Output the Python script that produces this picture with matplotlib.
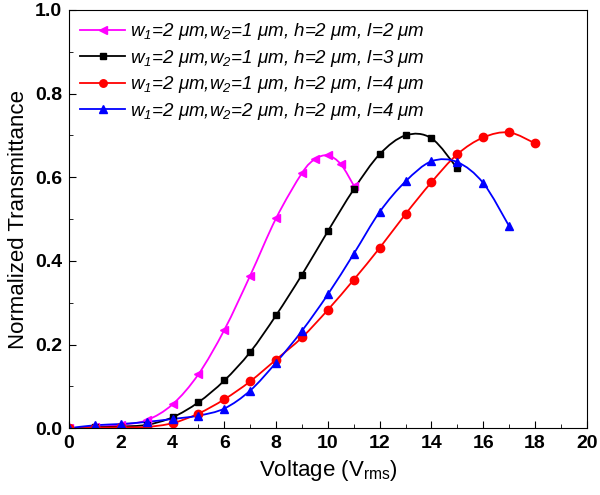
import numpy as np
import matplotlib
matplotlib.use('Agg')
import matplotlib.pyplot as plt
from matplotlib.path import Path
from matplotlib.patches import PathPatch
from matplotlib.ticker import MultipleLocator

plt.rcParams['font.family'] = ['Liberation Sans', 'DejaVu Sans']
plt.rcParams['mathtext.fontset'] = 'custom'
plt.rcParams['mathtext.rm'] = 'Liberation Sans:italic'
plt.rcParams['mathtext.it'] = 'Liberation Sans:italic'

# l = 2 um (magenta)
v_l2 = [0, 1, 2, 3, 4, 5, 6, 7, 8, 9, 9.5, 10, 10.5, 11]
t_l2 = [0.0, 0.003, 0.008, 0.019, 0.057, 0.129, 0.235, 0.365, 0.502, 0.61, 0.643, 0.652, 0.631, 0.58]
# l = 3 um (black)
v_l3 = [0, 1, 2, 3, 4, 5, 6, 7, 8, 9, 10, 11, 12, 13, 14, 15]
t_l3 = [0.0, 0.002, 0.004, 0.008, 0.026, 0.062, 0.114, 0.182, 0.27, 0.367, 0.471, 0.571, 0.655, 0.70, 0.693, 0.621]
# l = 4 um, w2 = 1 um (red)
v_r = [0, 1, 2, 3, 4, 5, 6, 7, 8, 9, 10, 11, 12, 13, 14, 15, 16, 17, 18]
t_r = [0.0, 0.001, 0.002, 0.003, 0.012, 0.035, 0.069, 0.112, 0.164, 0.217, 0.283, 0.355, 0.431,
       0.512, 0.588, 0.655, 0.695, 0.707, 0.681]
# l = 4 um, w2 = 2 um (blue)
v_b = [0, 1, 2, 3, 4, 5, 6, 7, 8, 9, 10, 11, 12, 13, 14, 15, 16, 17]
t_b = [0.0, 0.007, 0.01, 0.015, 0.022, 0.03, 0.047, 0.09, 0.157, 0.233, 0.32, 0.417, 0.517,
       0.59, 0.638, 0.636, 0.586, 0.483]

labels = [
    r'w$_1$=2 μm,w$_2$=1 μm, h=2 μm, l=2 μm',
    r'w$_1$=2 μm,w$_2$=1 μm, h=2 μm, l=3 μm',
    r'w$_1$=2 μm,w$_2$=1 μm, h=2 μm, l=4 μm',
    r'w$_1$=2 μm,w$_2$=2 μm, h=2 μm, l=4 μm',
]


def smooth_path(x, y):
    # Catmull-Rom segments as cubic Bezier, passes through every data point
    x = np.asarray(x, float); y = np.asarray(y, float)
    verts = [(x[0], y[0])]
    codes = [Path.MOVETO]
    n = len(x)
    for i in range(n - 1):
        p0 = np.array([x[max(i - 1, 0)], y[max(i - 1, 0)]])
        p1 = np.array([x[i], y[i]])
        p2 = np.array([x[i + 1], y[i + 1]])
        p3 = np.array([x[min(i + 2, n - 1)], y[min(i + 2, n - 1)]])
        c1 = p1 + (p2 - p0) / 6.0
        c2 = p2 - (p3 - p1) / 6.0
        verts += [tuple(c1), tuple(c2), tuple(p2)]
        codes += [Path.CURVE4] * 3
    return Path(verts, codes)


fig = plt.figure(figsize=(6.0, 4.95), dpi=100)
ax = fig.add_axes([0.115, 0.135, 0.863, 0.845])

series = [
    (v_l2, t_l2, '#ff00ff', '<', 6),
    (v_l3, t_l3, 'black', 's', 5),
    (v_r, t_r, 'red', 'o', 6),
    (v_b, t_b, 'blue', '^', 6),
]
for (vx, ty, c, m, ms), lab in zip(series, labels):
    ax.add_patch(PathPatch(smooth_path(vx, ty), facecolor='none', edgecolor=c, lw=1.3))
    ax.plot(vx, ty, ls='none', color=c, marker=m, ms=ms)
    ax.plot([], [], color=c, marker=m, ms=ms, lw=1.3, label=lab)

ax.set_xlim(0, 20)
ax.set_ylim(0, 1.0)
ax.xaxis.set_major_locator(MultipleLocator(2))
ax.xaxis.set_minor_locator(MultipleLocator(1))
ax.yaxis.set_major_locator(MultipleLocator(0.2))
ax.yaxis.set_minor_locator(MultipleLocator(0.1))
ax.yaxis.set_major_formatter(plt.FormatStrFormatter('%.1f'))
ax.tick_params(which='both', direction='in', top=False, right=False)
ax.tick_params(which='major', length=5, labelsize=14, pad=5)
ax.tick_params(which='minor', length=3)
for lbl in ax.get_xticklabels() + ax.get_yticklabels():
    lbl.set_fontweight('bold')

ax.set_xlabel(r'Voltage (V$_{\mathregular{rms}}$)', fontsize=16)
ax.set_ylabel('Normalized Transmittance', fontsize=16)

leg = ax.legend(loc='upper left', frameon=False, prop={'style': 'italic', 'size': 13.5},
                handlelength=2.4, handletextpad=0.25, labelspacing=0.3,
                borderaxespad=0.2, markerscale=0.9)

fig.savefig('out.png', dpi=100)
